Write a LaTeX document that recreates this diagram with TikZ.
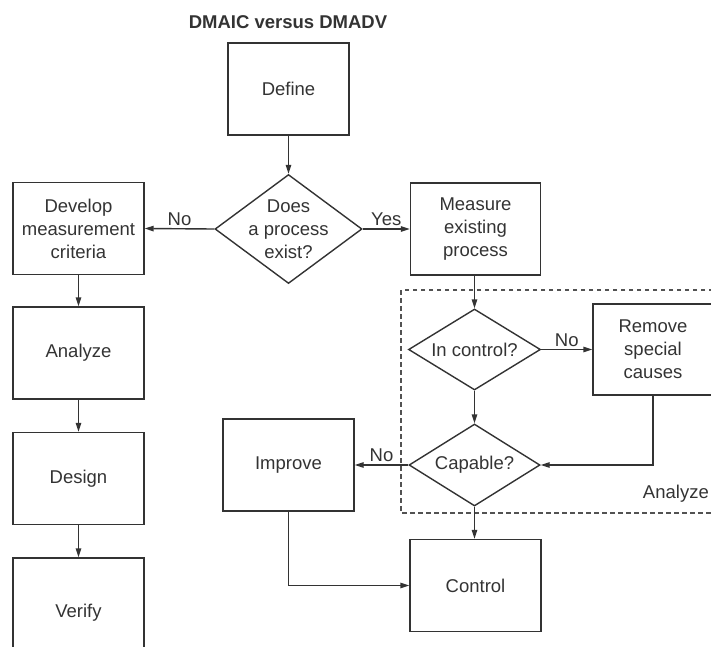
\documentclass[tikz,border=0pt]{standalone}
\usepackage{fontspec}
\setmainfont{Liberation Sans}
\usetikzlibrary{shapes.geometric,arrows.meta}
\definecolor{ink}{HTML}{333333}
\begin{document}
\begin{tikzpicture}[x=1pt,y=-1pt,
  every node/.style={text=ink, font=\fontsize{18.5}{23}\selectfont},
  box/.style={draw=ink, line width=1.4pt, minimum width=131pt, minimum height=92pt, align=center, inner sep=0pt},
  dia/.style={draw=ink, line width=1.4pt, diamond, inner sep=0pt},
  txt/.style={align=center, inner sep=0pt},
  lbl/.style={inner sep=2.5pt},
  flow/.style={draw=ink, line width=1.4pt, -{Triangle[length=9pt,width=5.5pt]}},
  region/.style={draw=ink!85, line width=1.1pt, dash pattern=on 4.5pt off 3.5pt}]
\useasboundingbox (0,0) rectangle (711,646);
\clip (0,0) rectangle (711,646);

% title
\node (title) at (288,22) {\bfseries DMAIC versus DMADV};

% dashed frame of the analyze stage
\draw[region] (401,290) rectangle (730,513);
\node[inner sep=0pt, anchor=east] (analyzelbl) at (709,494) {Analyze};

% central spine
\node[box, minimum width=121pt] (define) at (288.5,89) {Define};
\node[dia, minimum width=147pt, minimum height=109pt] (exist) at (288.5,229) {};
\node[txt] (existtxt) at (exist) {Does\\a process\\exist?};

% DMADV branch
\node[box] (develop) at (78.5,228.5) {Develop\\measurement\\criteria};
\node[box] (analyze) at (78.5,353) {Analyze};
\node[box] (design) at (78.5,478.5) {Design};
\node[box, minimum height=110pt] (verify) at (78.5,613) {Verify};

% DMAIC branch
\node[box, minimum width=130pt] (measure) at (475.5,229) {Measure\\existing\\process};
\node[dia, minimum width=132pt, minimum height=81pt] (inctrl) at (474.5,349.5) {};
\node[txt] (inctrltxt) at (inctrl) {In control?};
\node[box, minimum width=120pt, minimum height=91pt] (remove) at (653,349.5) {Remove\\special\\causes};
\node[dia, minimum width=131pt, minimum height=82pt] (capable) at (474.5,465) {};
\node[txt] (capabletxt) at (capable) {Capable?};
\node[box] (improve) at (288.5,465) {Improve};
\node[box] (control) at (475.5,585.5) {Control};

% connectors
\draw[flow] (define) -- (exist);
\draw[flow] (exist.west) -- node[lbl, above] (nolbl1) {No} (develop.east);
\draw[flow] (exist.east) -- node[lbl, above] (yeslbl) {Yes} (measure.west);
\draw[flow] (develop) -- (analyze);
\draw[flow] (analyze) -- (design);
\draw[flow] (design) -- (verify);
\draw[flow] (measure.south -| inctrl) -- (inctrl.north);
\draw[flow] (inctrl.east) -- node[lbl, above] (nolbl2) {No} (remove.west);
\draw[flow] (inctrl.south) -- (capable.north);
\draw[flow] (remove.south) |- (capable.east);
\draw[flow] (capable.west) -- node[lbl, above] (nolbl3) {No} (improve.east);
\draw[flow] (capable.south) -- (capable.south |- control.north);
\draw[flow] (improve.south) |- (control.west);
\end{tikzpicture}
\end{document}
